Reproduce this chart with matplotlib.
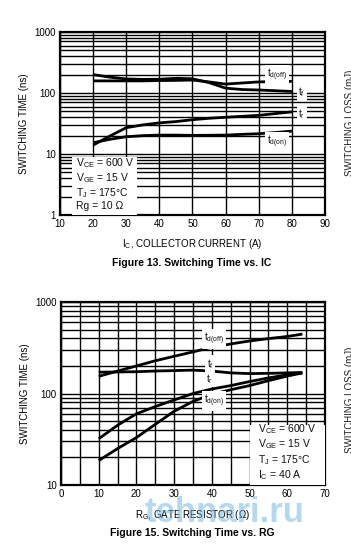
import matplotlib
matplotlib.use("Agg")
import matplotlib.pyplot as plt
import numpy as np

plt.rcParams['font.family'] = ['Liberation Sans', 'DejaVu Sans']
plt.rcParams['mathtext.fontset'] = 'custom'
plt.rcParams['mathtext.rm'] = 'Liberation Sans'
plt.rcParams['mathtext.it'] = 'Liberation Sans'

# Figure 13: switching time vs collector current
ic = [20, 25, 30, 35, 40, 45, 50, 55, 60, 65, 70, 75, 80]
ic_tf = [200, 182, 170, 167, 168, 174, 171, 148, 120, 114, 112, 109, 106]
ic_tdoff = [158, 158, 158, 158, 160, 161, 163, 152, 140, 146, 152, 154, 155]
ic_tr = [14, 19.6, 27, 30, 32.4, 34, 36.5, 38.5, 40, 41.5, 43, 46, 49]
ic_tdon = [15.3, 17.4, 19.2, 20, 20.4, 20.4, 20.2, 20.3, 20.4, 21, 21.5, 22.5, 23.7]

# Figure 15: switching time vs gate resistor
rg = [10, 15, 20, 25, 30, 35, 40, 45, 50, 55, 60, 64]
rg_tdoff = [154, 176, 200, 228, 255, 285, 320, 348, 375, 398, 420, 446]
rg_tf = [171, 172, 173, 176, 178, 180, 176, 168, 165, 166, 168, 170]
rg_tr = [32, 45, 60, 72, 85, 100, 112, 122, 135, 148, 160, 168]
rg_tdon = [18.5, 25, 33, 46, 64, 82, 98, 110, 122, 138, 155, 168]

fig = plt.figure(figsize=(3.51, 5.51), dpi=100)
W, H = 351, 551


def make_axes(l, t, r, b):
    return fig.add_axes([l / W, 1 - b / H, (r - l) / W, (b - t) / H])


def style(ax, xmin, xmax, xstep, gstep, ymin, ymax):
    ax.set_yscale('log')
    ax.set_xlim(xmin, xmax)
    ax.set_ylim(ymin, ymax)
    ax.set_xticks(np.arange(xmin, xmax + 1, xstep))
    ax.set_xticks(np.arange(xmin, xmax + 1, gstep), minor=True)
    ax.grid(True, which='both', axis='both', color='black', lw=1.0)
    ax.tick_params(which='both', length=0, labelsize=7, pad=3)
    ax.yaxis.set_minor_formatter(matplotlib.ticker.NullFormatter())
    ax.yaxis.set_major_formatter(matplotlib.ticker.FuncFormatter(lambda v, p: f"{v:g}"))
    for s in ax.spines.values():
        s.set_linewidth(1.6)
    ax.set_axisbelow(True)


lab = dict(fontsize=7, color='#111111', ha='center', va='center',
           bbox=dict(facecolor='white', edgecolor='none', pad=1.2))

# ---- top chart
ax1 = make_axes(60, 32, 325, 215)
style(ax1, 10, 90, 10, 10, 1, 1000)
for y in [ic_tf, ic_tdoff, ic_tr, ic_tdon]:
    ax1.plot(ic, y, color='black', lw=2.0, solid_capstyle='butt')
ax1.text(75.5, 197, r'$\mathregular{t_{d(off)}}$', **lab)
ax1.text(83.0, 104, r'$\mathregular{t_f}$', **lab)
ax1.text(83.0, 45, r'$\mathregular{t_r}$', **lab)
ax1.text(75.5, 15.8, r'$\mathregular{t_{d(on)}}$', **lab)
ax1.add_patch(plt.Rectangle((0.045, 0.0), 0.245, 0.317, transform=ax1.transAxes,
                            facecolor='white', edgecolor='none', zorder=3))
ax1.text(0.062, 0.172, 'V$\\mathregular{_{CE}}$ = 600 V\nV$\\mathregular{_{GE}}$ = 15 V\n'
         'T$\\mathregular{_J}$ = 175°C\nRg = 10 Ω', transform=ax1.transAxes,
         fontsize=7.5, va='center', ha='left', linespacing=1.12, zorder=4, color='#111111')
ax1.set_ylabel('SWITCHING TIME (ns)', fontsize=7, labelpad=4)
ax1.set_xlabel(r'$\mathregular{I_C}$, COLLECTOR CURRENT (A)', fontsize=7, labelpad=6)
fig.text(192 / W, 1 - 263 / H, 'Figure 13. Switching Time vs. IC', fontsize=7.5,
         fontweight='bold', ha='center', va='center')

# ---- bottom chart
ax2 = make_axes(61, 302, 325, 485)
style(ax2, 0, 70, 10, 5, 10, 1000)
for y in [rg_tdoff, rg_tf, rg_tr, rg_tdon]:
    ax2.plot(rg, y, color='black', lw=2.0, solid_capstyle='butt')
ax2.text(40.5, 394, r'$\mathregular{t_{d(off)}}$', **lab)
ax2.text(39.5, 210, r'$\mathregular{t_f}$', **lab)
ax2.text(39.5, 145, r'$\mathregular{t_r}$', **lab)
ax2.text(40.5, 83, r'$\mathregular{t_{d(on)}}$', **lab)
ax2.add_patch(plt.Rectangle((0.717, 0.0), 0.283, 0.33, transform=ax2.transAxes,
                            facecolor='white', edgecolor='none', zorder=3))
ax2.text(0.745, 0.18, 'V$\\mathregular{_{CE}}$ = 600 V\nV$\\mathregular{_{GE}}$ = 15 V\n'
         'T$\\mathregular{_J}$ = 175°C\nI$\\mathregular{_C}$ = 40 A', transform=ax2.transAxes,
         fontsize=7.5, va='center', ha='left', linespacing=1.15, zorder=4, color='#111111')
ax2.set_ylabel('SWITCHING TIME (ns)', fontsize=7, labelpad=4)
ax2.set_xlabel(r'$\mathregular{R_G}$, GATE RESISTOR (Ω)', fontsize=7, labelpad=6)
fig.text(192 / W, 1 - 533 / H, 'Figure 15. Switching Time vs. RG', fontsize=7.5,
         fontweight='bold', ha='center', va='center')

# clipped neighbour-axis labels at right edge
for yc in [123, 400]:
    fig.text(345 / W, 1 - yc / H, 'SWITCHING LOSS (mJ)', rotation=90, fontsize=7,
             ha='left', va='center', color='#222222')

# watermark
fig.text(225 / W, 1 - 513 / H, 'tehnari.ru', fontsize=25, fontweight='bold',
         color='#6fb2de', alpha=0.5, ha='center', va='center')

fig.savefig('out.png', dpi=100)
